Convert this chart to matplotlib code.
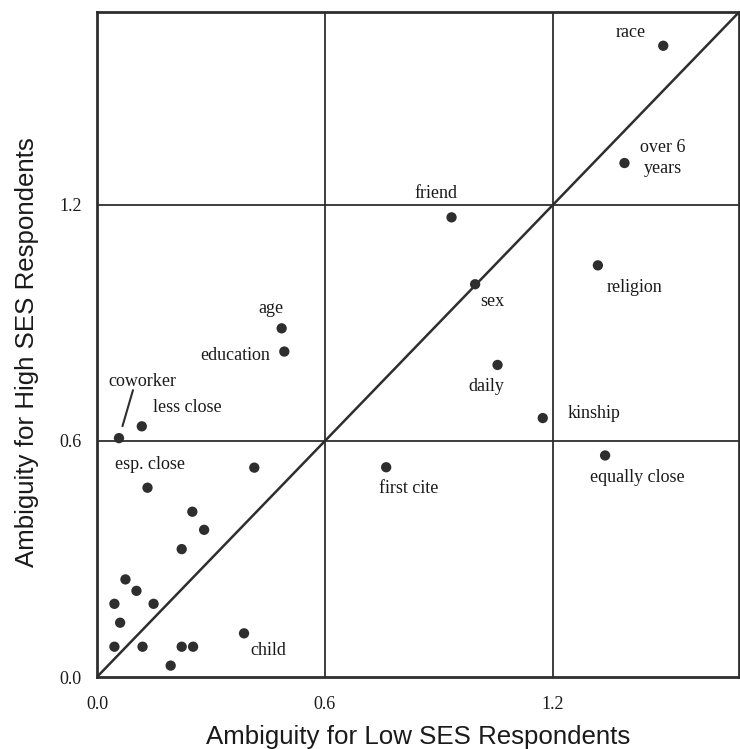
import matplotlib
matplotlib.use("Agg")
import matplotlib.pyplot as plt

# ambiguity scores: low SES (x) vs high SES (y)
names = ["race", "over 6\nyears", "friend", "sex", "religion", "daily", "kinship",
         "first cite", "equally close", "age", "education", "coworker",
         "less close", "esp. close", "child"]
low_ses = [1.49, 1.388, 0.933, 0.995, 1.318, 1.054, 1.173,
           0.761, 1.337, 0.486, 0.493, 0.058, 0.118, 0.133, 0.387]
high_ses = [1.604, 1.306, 1.168, 0.998, 1.046, 0.793, 0.658,
            0.533, 0.563, 0.886, 0.827, 0.607, 0.637, 0.481, 0.111]

# unlabelled items
other_low = [0.414, 0.251, 0.282, 0.223, 0.075, 0.104, 0.046, 0.149,
             0.061, 0.046, 0.120, 0.223, 0.253, 0.194]
other_high = [0.532, 0.420, 0.374, 0.325, 0.248, 0.219, 0.186, 0.186,
              0.138, 0.077, 0.077, 0.077, 0.077, 0.029]

ticks = [0.0, 0.6, 1.2]
tick_labels = ["0.0", "0.6", "1.2"]

# label offsets in pixels (dx, dy) from each point
offsets = [(-33, 13), (38, 5), (-16, 24), (17, -17), (37, -22), (-11, -22), (51, 5),
           (23, -21), (32, -22), (-11, 20), (-49, -4), (23, 57),
           (46, 19), (3, 23), (24, -17)]

ink = "#2e2e2e"
serif = "Liberation Serif"
sans = "Liberation Sans"

fig = plt.figure(figsize=(7.4, 7.49), dpi=100)
ax = fig.add_axes([0.131, 0.0961, 0.868, 0.888])

lim = 1.69
ax.set_xlim(0, lim)
ax.set_ylim(0, lim)

for t in ticks[1:]:
    ax.axvline(t, color=ink, lw=1.3, zorder=1)
    ax.axhline(t, color=ink, lw=1.3, zorder=1)
ax.plot([0, lim], [0, lim], color=ink, lw=1.8, zorder=2)

ax.scatter(low_ses + other_low, high_ses + other_high, s=55, color=ink,
           edgecolors="none", zorder=3)

for name, x, y, (dx, dy) in zip(names, low_ses, high_ses, offsets):
    ax.annotate(name, (x, y), xytext=(dx, dy), textcoords="offset pixels",
                ha="center", va="center", fontsize=13, family=serif,
                color="#1a1a1a", linespacing=1.25)

# leader line for coworker
i = names.index("coworker")
ax.annotate("", (low_ses[i], high_ses[i]), xytext=(14, 48), textcoords="offset pixels",
            arrowprops=dict(arrowstyle="-", color=ink, lw=1.5, shrinkA=0, shrinkB=9))

ax.set_xticks(ticks)
ax.set_xticklabels(tick_labels, family=serif, fontsize=13)
ax.set_yticks(ticks)
ax.set_yticklabels(tick_labels, family=serif, fontsize=13)
ax.tick_params(axis="x", length=0, pad=14, colors="#1a1a1a")
ax.tick_params(axis="y", length=0, pad=11, colors="#1a1a1a")

for s in ax.spines.values():
    s.set_linewidth(2)
    s.set_color(ink)

ax.set_xlabel("Ambiguity for Low SES Respondents", family=sans, fontsize=18.6,
              color="#1a1a1a", labelpad=8)
ax.set_ylabel("Ambiguity for High SES Respondents", family=sans, fontsize=18.6,
              color="#1a1a1a")
ax.yaxis.set_label_coords(-0.09, 0.489)

fig.savefig("out.png", dpi=100)
